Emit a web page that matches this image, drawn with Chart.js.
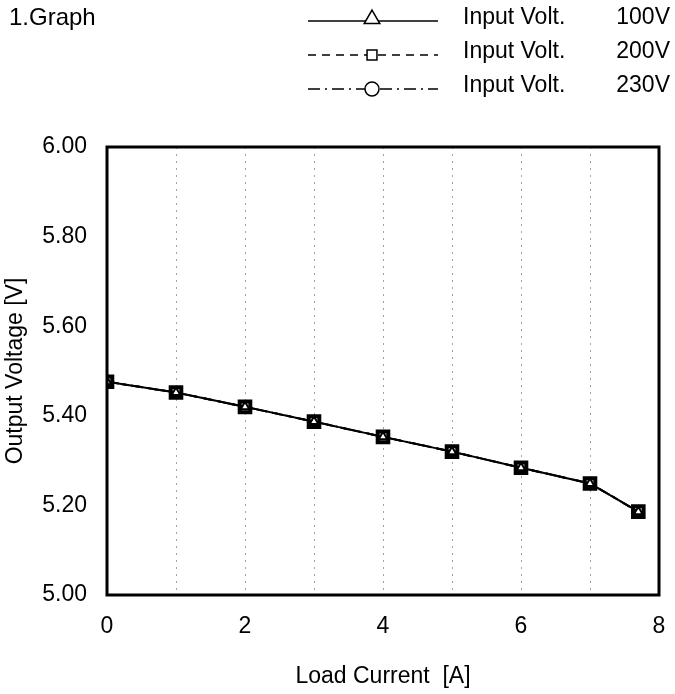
<!DOCTYPE html>
<html>
<head>
<meta charset="utf-8">
<title>1.Graph</title>
<script src="https://cdn.jsdelivr.net/npm/chart.js@4/dist/chart.umd.min.js"></script>
<style>
  html, body { margin: 0; padding: 0; background: #fff; }
  #wrap { position: relative; width: 675px; height: 694px; }
</style>
</head>
<body>
<div id="wrap"><canvas id="grafico" width="675" height="694"></canvas></div>
<script>
// load current [A] and output voltage [V] for each input voltage
const corrente = [0, 1, 2, 3, 4, 5, 6, 7, 7.7];
const saida100 = [5.476, 5.452, 5.420, 5.387, 5.353, 5.320, 5.284, 5.249, 5.186];
const saida200 = [5.476, 5.452, 5.420, 5.387, 5.353, 5.320, 5.284, 5.249, 5.186];
const saida230 = [5.476, 5.452, 5.420, 5.387, 5.353, 5.320, 5.284, 5.249, 5.186];
const rotulosEntrada = ['100V', '200V', '230V'];

const FONTE = "'Liberation Sans', Arial, sans-serif";

function pontos(ys) {
  return corrente.map((x, i) => ({ x, y: ys[i] }));
}

// frame around the plot area
const moldura = {
  id: 'moldura',
  afterDraw(chart) {
    const { ctx, chartArea: a } = chart;
    ctx.save();
    ctx.strokeStyle = '#000';
    ctx.lineWidth = 3;
    ctx.strokeRect(a.left, a.top, a.right - a.left, a.bottom - a.top);
    ctx.restore();
  }
};

// title and legend at the top
const legenda = {
  id: 'legenda',
  afterDraw(chart) {
    const ctx = chart.ctx;
    ctx.save();
    ctx.fillStyle = '#000';
    ctx.textBaseline = 'middle';
    ctx.font = `24px ${FONTE}`;
    ctx.textAlign = 'left';
    ctx.fillText('1.Graph', 9, 18);

    const linhas = [18, 52, 86];
    chart.data.datasets.forEach((ds, i) => {
      const y = linhas[i];
      const yl = y + 3;
      ctx.strokeStyle = '#000';
      ctx.lineWidth = 1.5;
      ctx.setLineDash(ds.borderDash || []);
      ctx.beginPath();
      ctx.moveTo(308, yl);
      ctx.lineTo(438, yl);
      ctx.stroke();
      ctx.setLineDash([]);
      ctx.fillStyle = '#fff';
      Chart.helpers.drawPoint(ctx, {
        pointStyle: ds.pointStyle,
        radius: ds.pointStyle === 'triangle' ? 9 : 7,
        borderWidth: 1.5
      }, 372, ds.pointStyle === 'triangle' ? yl - 2 : yl);
      ctx.fillStyle = '#000';
      ctx.font = `23px ${FONTE}`;
      ctx.textAlign = 'left';
      ctx.fillText('Input Volt.', 463, y);
      ctx.textAlign = 'right';
      ctx.fillText(rotulosEntrada[i], 670, y);
    });
    ctx.restore();
  }
};

const estiloComum = {
  borderColor: '#000',
  borderWidth: 2,
  pointBorderColor: '#000',
  pointBackgroundColor: '#fff',
  tension: 0
};

new Chart(document.getElementById('grafico'), {
  type: 'line',
  data: {
    datasets: [
      { ...estiloComum, label: 'Input Volt. 100V', data: pontos(saida100),
        pointStyle: 'triangle', pointRadius: 5, pointBorderWidth: 2 },
      { ...estiloComum, label: 'Input Volt. 200V', data: pontos(saida200),
        borderDash: [8, 6], pointStyle: 'rect', pointRadius: 7.5, pointBorderWidth: 4 },
      { ...estiloComum, label: 'Input Volt. 230V', data: pontos(saida230),
        borderDash: [12, 5, 2, 5], pointStyle: 'circle', pointRadius: 3.5, pointBorderWidth: 2 }
    ]
  },
  options: {
    responsive: false,
    animation: false,
    layout: { padding: { top: 147, right: 16, left: 0, bottom: 0 } },
    plugins: { legend: { display: false }, tooltip: { enabled: false } },
    scales: {
      x: {
        type: 'linear',
        min: 0,
        max: 8,
        afterFit: s => { s.height = 99; s.paddingLeft = 0; s.paddingRight = 0; },
        ticks: {
          stepSize: 1,
          padding: 18,
          color: '#000',
          font: { family: FONTE, size: 23 },
          maxRotation: 0,
          callback: v => (v % 2 === 0 ? String(v) : '')
        },
        grid: {
          drawTicks: false,
          color: ctx => (ctx.tick && ctx.tick.value > 0 && ctx.tick.value < 8 ? '#a0a0a0' : 'rgba(0,0,0,0)'),
          lineWidth: 1
        },
        // dash here applies to the vertical grid lines
        border: { display: false, dash: [2, 5] },
        title: {
          display: true,
          text: 'Load Current  [A]',
          color: '#000',
          font: { family: FONTE, size: 23 },
          padding: { top: 0, bottom: 4 }
        }
      },
      y: {
        min: 5,
        max: 6,
        afterFit: s => { s.width = 107; s.paddingTop = 0; s.paddingBottom = 0; },
        ticks: {
          stepSize: 0.2,
          padding: 20,
          color: '#000',
          font: { family: FONTE, size: 23 },
          callback: v => Number(v).toFixed(2)
        },
        grid: { display: false, drawTicks: false },
        border: { display: false },
        title: {
          display: true,
          text: 'Output Voltage [V]',
          color: '#000',
          font: { family: FONTE, size: 23 },
          padding: { top: 2, bottom: 0 }
        }
      }
    }
  },
  plugins: [moldura, legenda]
});
</script>
</body>
</html>
